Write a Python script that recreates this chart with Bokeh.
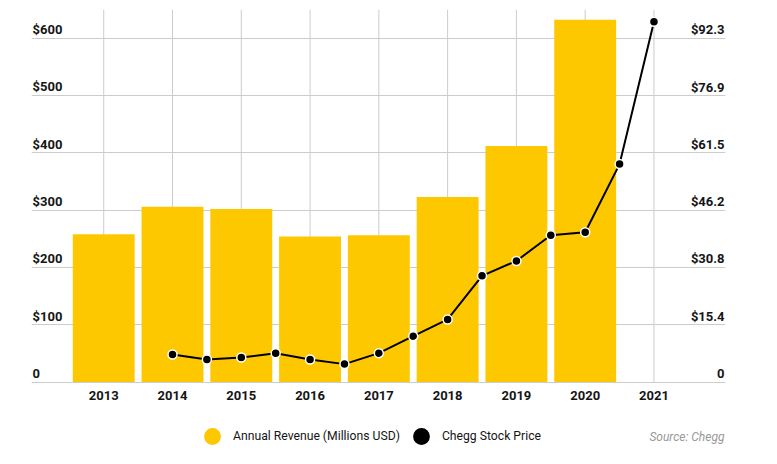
from bokeh.plotting import figure
from bokeh.models import Range1d, Legend, LegendItem, FixedTicker
from bokeh.core.properties import value
from bokeh.embed import file_html
from bokeh.resources import INLINE

# ---- data ----
rev_years = [2013, 2014, 2015, 2016, 2017, 2018, 2019, 2020]
revenue = [258, 306, 302, 254, 256, 323, 412, 632]

price_dates = [2014, 2014.5, 2015, 2015.5, 2016, 2016.5, 2017, 2017.5,
               2018, 2018.5, 2019, 2019.5, 2020, 2020.5, 2021]
price = [7.4, 6.05, 6.6, 7.7, 6.05, 4.8, 7.75, 12.3,
         16.8, 28.5, 32.5, 39.4, 40.2, 58.5, 96.7]

year_ticks = [2013, 2014, 2015, 2016, 2017, 2018, 2019, 2020, 2021]
year_labels = ["2013", "2014", "2015", "2016", "2017", "2018", "2019", "2020", "2021"]
left_ticks = [0, 100, 200, 300, 400, 500, 600]
left_labels = ["0", "$100", "$200", "$300", "$400", "$500", "$600"]
right_ticks = [0, 15.4, 30.8, 46.2, 61.5, 76.9, 92.3]
right_labels = ["0", "$15.4", "$30.8", "$46.2", "$61.5", "$76.9", "$92.3"]

YELLOW = "#FEC800"
GRID = "#cccccc"
FONT = "Roboto"
TXT = "#151515"

X0, X1 = 2011.95, 2022.04
REV_MAX, PRICE_MAX = 650, 100
FRAME_H = 454
PLOT_H = 372.5                       # pixel height of 0..REV_MAX
rev_low = -(FRAME_H - PLOT_H) * REV_MAX / PLOT_H
price_low = rev_low * PRICE_MAX / REV_MAX

p = figure(frame_width=694, frame_height=FRAME_H,
           min_border_left=31, min_border_right=51, min_border_top=9, min_border_bottom=0,
           x_range=Range1d(X0, X1), y_range=Range1d(rev_low, REV_MAX),
           x_axis_location=None, y_axis_location=None,
           toolbar_location=None, output_backend="svg")
p.extra_y_ranges = {"price": Range1d(price_low, PRICE_MAX)}
p.outline_line_color = None
p.background_fill_color = "white"
p.border_fill_color = "white"

# grids
p.xgrid.visible = False
p.ygrid.ticker = FixedTicker(ticks=left_ticks)
p.ygrid.grid_line_color = GRID
p.ygrid.grid_line_width = 1
p.segment(x0=year_ticks, x1=year_ticks, y0=[0] * len(year_ticks), y1=[REV_MAX] * len(year_ticks),
          line_color=GRID, line_width=1)

# bars
p.vbar(x=rev_years, top=revenue, width=0.9, bottom=0, fill_color=YELLOW, line_color=None)

# price line
p.line(x=price_dates, y=price, y_range_name="price", line_color="black", line_width=2)
p.scatter(x=price_dates, y=price, y_range_name="price", size=9,
          fill_color="black", line_color="white", line_width=1.5)

# tick labels
lab = dict(text_font=value(FONT), text_font_size="13px", text_font_style="bold", text_color=TXT)
p.text(x=[X0] * len(left_ticks), y=left_ticks, text=left_labels,
       x_offset=1, y_offset=-8.5, text_align="left", text_baseline="middle", **lab)
p.text(x=[X1] * len(right_ticks), y=right_ticks, text=right_labels, y_range_name="price",
       x_offset=-1, y_offset=-8.5, text_align="right", text_baseline="middle", **lab)
p.text(x=year_ticks, y=[0] * len(year_ticks), text=year_labels,
       y_offset=13, text_align="center", text_baseline="middle", **lab)

# source note
p.text(x=[X1], y=[0], text=["Source: Chegg"], x_offset=-1, y_offset=54.5,
       text_align="right", text_baseline="middle",
       text_font=value(FONT), text_font_size="12px", text_font_style="italic", text_color="#999999")

# legend (swatch renderers hold no visible point)
nan = float("nan")
swatch_rev = p.scatter(x=[nan], y=[nan], size=9, fill_color=YELLOW, line_color=None)
swatch_px = p.scatter(x=[nan], y=[nan], size=9, fill_color="black", line_color=None)
legend = Legend(items=[LegendItem(label="Annual Revenue (Millions USD)", renderers=[swatch_rev]),
                       LegendItem(label="Chegg Stock Price", renderers=[swatch_px])],
                orientation="horizontal", location=(160, 6),
                glyph_width=42, glyph_height=42, label_standoff=0, spacing=0,
                padding=0, margin=0, border_line_color=None, background_fill_alpha=0,
                label_text_font=FONT, label_text_font_size="12.2px", label_text_color=TXT)
p.add_layout(legend, "center")

open("out.html", "w").write(file_html(p, INLINE))
